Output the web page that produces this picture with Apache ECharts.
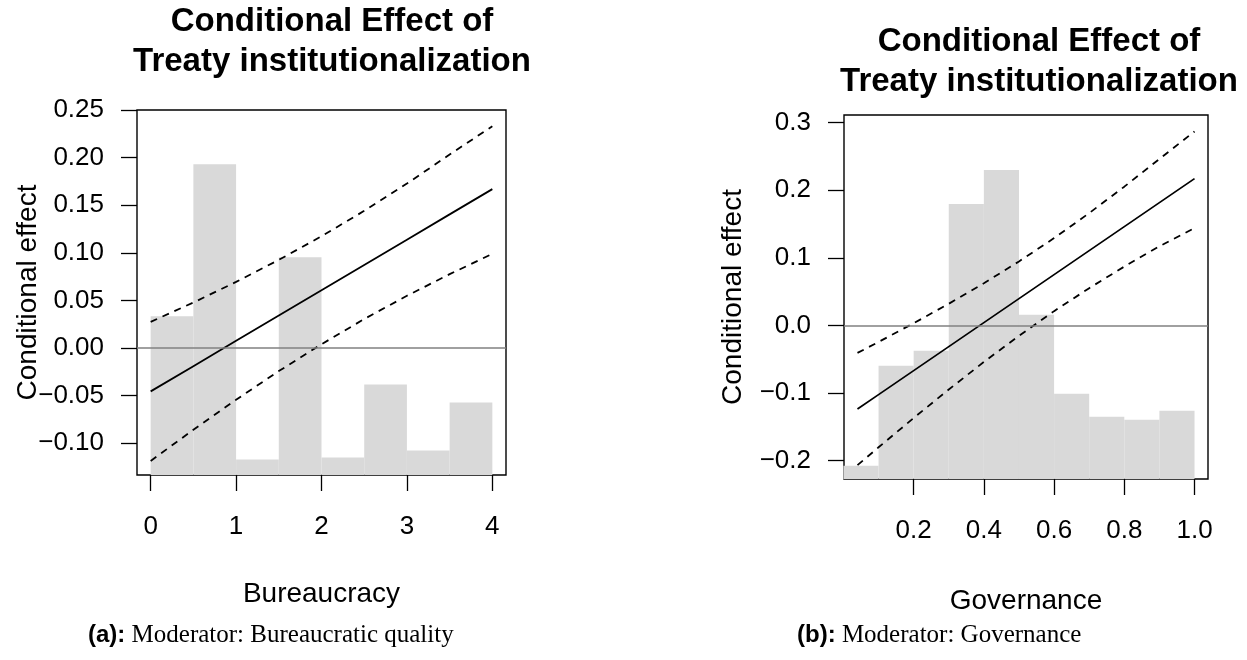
<!DOCTYPE html>
<html>
<head>
<meta charset="utf-8">
<script src="https://cdn.jsdelivr.net/npm/echarts@6/dist/echarts.min.js"></script>
<style>
  html, body { margin: 0; padding: 0; background: #fff; }
  #chart { width: 1247px; height: 660px; }
</style>
</head>
<body>
<div id="chart"></div>
<script>
// Panel (a): moderator = bureaucratic quality
const binEdgesA = [0, 0.5, 1, 1.5, 2, 2.5, 3, 3.5, 4];
const histA = [0.0333, 0.1931, -0.1170, 0.0953, -0.1149, -0.0382, -0.1076, -0.0571];
const xA = [0, 0.5, 1, 1.5, 2, 2.5, 3, 3.5, 4];
const effectA = [-0.0455, -0.0190, 0.0076, 0.0342, 0.0607, 0.0873, 0.1138, 0.1404, 0.1669];
const upperA = [0.0275, 0.0478, 0.0695, 0.0926, 0.1174, 0.1441, 0.1727, 0.2032, 0.2330];
const lowerA = [-0.1185, -0.0858, -0.0543, -0.0242, 0.0040, 0.0305, 0.0549, 0.0776, 0.0989];
const xTicksA = [0, 1, 2, 3, 4];
const yTicksA = [-0.10, -0.05, 0, 0.05, 0.10, 0.15, 0.20, 0.25];

// Panel (b): moderator = governance
const binEdgesB = [0, 0.1, 0.2, 0.3, 0.4, 0.5, 0.6, 0.7, 0.8, 0.9, 1.0];
const histB = [-0.2074, -0.0596, -0.0374, 0.1798, 0.2300, 0.0158, -0.1010, -0.1350, -0.1394, -0.1261];
const xB = [0.04, 0.1, 0.2, 0.3, 0.4, 0.5, 0.6, 0.7, 0.8, 0.9, 1.0];
const effectB = [-0.1236, -0.1023, -0.0668, -0.0313, 0.0042, 0.0397, 0.0752, 0.1107, 0.1462, 0.1817, 0.2172];
const upperB = [-0.0406, -0.0244, 0.0033, 0.0321, 0.0624, 0.0947, 0.1292, 0.1662, 0.2053, 0.2463, 0.2870];
const lowerB = [-0.2066, -0.1802, -0.1369, -0.0947, -0.0540, -0.0153, 0.0212, 0.0552, 0.0871, 0.1171, 0.1440];
const xTicksB = [0.2, 0.4, 0.6, 0.8, 1.0];
const yTicksB = [-0.2, -0.1, 0, 0.1, 0.2, 0.3];

const titleText = 'Conditional Effect of\nTreaty institutionalization';
const yName = 'Conditional effect';

// Axis extents (plot box padded around the data, R style)
const rangeA = { xMin: -0.16, xMax: 4.16, yMin: -0.1333, yMax: 0.25 };
const rangeB = { xMin: 0.0016, xMax: 1.0384, yMin: -0.2271, yMax: 0.3113 };

const SANS = '"Liberation Sans", Arial, Helvetica, sans-serif';
const SERIF = '"Liberation Serif", "Times New Roman", serif';

const fmt = (digits) => (v) => (v < 0 ? '\u2212' : '') + Math.abs(v).toFixed(digits);

function histRender(yMin) {
  return function (params, api) {
    const p0 = api.coord([api.value(0), api.value(2)]);
    const p1 = api.coord([api.value(1), yMin]);
    return {
      type: 'rect',
      shape: { x: p0[0], y: p0[1], width: p1[0] - p0[0], height: p1[1] - p0[1] },
      style: { fill: '#d9d9d9' }
    };
  };
}

function histData(edges, vals) {
  return vals.map((v, i) => [edges[i], edges[i + 1], v]);
}
function lineData(xs, ys) {
  return xs.map((x, i) => [x, ys[i]]);
}

function xAxisFor(gridIndex, range, ticks, digits, name, gap) {
  return {
    type: 'value', gridIndex, min: range.xMin, max: range.xMax,
    name, nameLocation: 'middle', nameGap: gap, nameMoveOverlap: false,
    nameTextStyle: { fontFamily: SANS, fontSize: 28, color: '#000' },
    axisLine: { show: false, onZero: false },
    axisTick: { show: true, inside: false, length: 16, customValues: ticks,
                lineStyle: { color: '#000', width: 1.3 } },
    axisLabel: { customValues: ticks, formatter: fmt(digits), margin: 39,
                 fontFamily: SANS, fontSize: 26, color: '#000' },
    splitLine: { show: false }
  };
}
function yAxisFor(gridIndex, range, ticks, digits, gap) {
  return {
    type: 'value', gridIndex, min: range.yMin, max: range.yMax,
    name: yName, nameLocation: 'middle', nameGap: gap, nameRotate: 90, nameMoveOverlap: false,
    nameTextStyle: { fontFamily: SANS, fontSize: 28, color: '#000' },
    axisLine: { show: false, onZero: false },
    axisTick: { show: true, inside: false, length: 16, customValues: ticks,
                lineStyle: { color: '#000', width: 1.3 } },
    axisLabel: { customValues: ticks, formatter: fmt(digits), margin: 33,
                 fontFamily: SANS, fontSize: 26, color: '#000' },
    splitLine: { show: false }
  };
}

function panelSeries(idx, range, edges, hist, xs, eff, up, lo) {
  const base = { xAxisIndex: idx, yAxisIndex: idx };
  return [
    Object.assign({
      type: 'custom', renderItem: histRender(range.yMin), clip: false,
      encode: { x: [0, 1], y: 2 }, data: histData(edges, hist), z: 1, silent: true,
      markLine: {
        silent: true, symbol: 'none', label: { show: false },
        lineStyle: { color: '#808080', type: 'solid', width: 1.6 },
        data: [{ yAxis: 0 }]
      }
    }, base),
    Object.assign({
      type: 'line', data: lineData(xs, eff), showSymbol: false, z: 3,
      lineStyle: { color: '#000', width: 1.8 }
    }, base),
    Object.assign({
      type: 'line', data: lineData(xs, up), showSymbol: false, z: 3,
      lineStyle: { color: '#000', width: 1.8, type: [7, 6] }
    }, base),
    Object.assign({
      type: 'line', data: lineData(xs, lo), showSymbol: false, z: 3,
      lineStyle: { color: '#000', width: 1.8, type: [7, 6] }
    }, base)
  ];
}

const chart = echarts.init(document.getElementById('chart'), null, { renderer: 'canvas' });

const titleStyle = { fontFamily: SANS, fontSize: 33, fontWeight: 'bold', color: '#000', lineHeight: 40 };
const richCaption = {
  b: { fontFamily: SANS, fontWeight: 'bold', fontSize: 24, fill: '#000' },
  s: { fontFamily: SERIF, fontSize: 25, fill: '#000' }
};

chart.setOption({
  animation: false,
  backgroundColor: '#fff',
  title: [
    { text: titleText, left: 327, top: -3, textAlign: 'center', textStyle: titleStyle },
    { text: titleText, left: 1034, top: 17, textAlign: 'center', textStyle: titleStyle }
  ],
  grid: [
    { left: 137, top: 110, width: 369, height: 365, show: true, borderColor: '#000', borderWidth: 1.4, backgroundColor: 'transparent' },
    { left: 844, top: 115, width: 364, height: 364, show: true, borderColor: '#000', borderWidth: 1.4, backgroundColor: 'transparent' }
  ],
  xAxis: [
    xAxisFor(0, rangeA, xTicksA, 0, 'Bureaucracy', 105),
    xAxisFor(1, rangeB, xTicksB, 1, 'Governance', 108)
  ],
  yAxis: [
    yAxisFor(0, rangeA, yTicksA, 2, 95),
    yAxisFor(1, rangeB, yTicksB, 1, 97)
  ],
  series: [].concat(
    panelSeries(0, rangeA, binEdgesA, histA, xA, effectA, upperA, lowerA),
    panelSeries(1, rangeB, binEdgesB, histB, xB, effectB, upperB, lowerB)
  ),
  graphic: [
    { type: 'text', left: 88, top: 623,
      style: { text: '{b|(a):}{s| Moderator: Bureaucratic quality}', rich: richCaption } },
    { type: 'text', left: 797, top: 623,
      style: { text: '{b|(b):}{s| Moderator: Governance}', rich: richCaption } }
  ]
});
</script>
</body>
</html>
